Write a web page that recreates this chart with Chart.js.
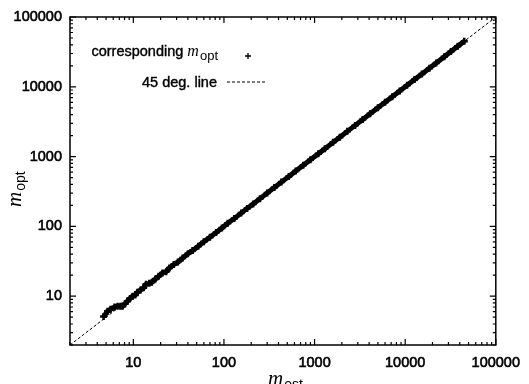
<!DOCTYPE html>
<html>
<head>
<meta charset="utf-8">
<script src="https://cdn.jsdelivr.net/npm/chart.js@4/dist/chart.umd.min.js"></script>
<style>
  html, body { margin: 0; padding: 0; background: #fff; }
  #wrap { width: 529px; height: 384px; }
</style>
</head>
<body>
<div id="wrap"><canvas id="chart"></canvas></div>
<script>
// m_est values (x) and the corresponding m_opt (y)
const mEst = [4.7, 5.2, 5.6, 6.2, 6.7, 7.2, 7.6, 8.1, 8.6, 9.2, 9.8, 10.5, 11.1, 12, 13, 13.8, 15, 16, 17.5, 19,
  21, 23, 25, 28, 31, 35, 40, 45, 52, 60, 70, 82, 95, 110, 130, 155, 180, 210, 250, 300,
  360, 430, 520, 620, 750, 900, 1100, 1300, 1600, 1900, 2300, 2800, 3400, 4100, 5000, 6000,
  7200, 8700, 10500, 12700, 15300, 18500, 22000, 27000, 32000, 38000, 44900];
const mOpt = [5.1, 6.1, 6.5, 7.0, 7.2, 7.2, 7.2, 7.8, 8.5, 9.3, 10, 10.4, 11.4, 12.3, 13.2, 14.8, 15.3, 15.8, 17.6, 19.3,
  21.5, 22.5, 25.3, 28.5, 30.8, 35.2, 40.5, 45, 52, 60.5, 70, 82, 95, 111, 130, 155, 181, 210, 250, 300,
  360, 431, 520, 620, 750, 900, 1100, 1300, 1600, 1900, 2300, 2800, 3400, 4100, 5000, 6000,
  7200, 8700, 10500, 12700, 15300, 18500, 22000, 27000, 32000, 38000, 44900];

// 45 degree reference line, from corner to corner
const diagEnds = [2, 100000];
const axisTicks = [10, 100, 1000, 10000, 100000];

const LABEL_FONT = 'Liberation Sans';
const SERIF_FONT = 'Liberation Serif';

const optPoints = mEst.map((x, i) => ({ x: x, y: mOpt[i] }));
const diagPoints = diagEnds.map(v => ({ x: v, y: v }));

// draw "m" in italic with a subscript, left aligned on the baseline
function drawMSub(ctx, x, y, mSize, sub, subSize, subDrop) {
  ctx.font = 'italic ' + mSize + 'px ' + SERIF_FONT;
  ctx.fillText('m', x, y);
  const w = ctx.measureText('m').width;
  ctx.font = subSize + 'px ' + LABEL_FONT;
  ctx.fillText(sub, x + w + 1, y + subDrop);
  return w + 1 + ctx.measureText(sub).width;
}

function measureMSub(ctx, mSize, sub, subSize) {
  ctx.font = 'italic ' + mSize + 'px ' + SERIF_FONT;
  const w = ctx.measureText('m').width;
  ctx.font = subSize + 'px ' + LABEL_FONT;
  return w + 1 + ctx.measureText(sub).width;
}

const framePlugin = {
  id: 'frame',
  afterDatasetsDraw(chart) {
    const ctx = chart.ctx;
    const a = chart.chartArea;
    const xs = chart.scales.x, ys = chart.scales.y;
    ctx.save();
    ctx.strokeStyle = '#000';
    ctx.lineWidth = 1.5;
    ctx.strokeRect(a.left, a.top, a.right - a.left, a.bottom - a.top);

    // inward major and minor ticks on all four sides
    ctx.lineWidth = 1.2;
    ctx.beginPath();
    for (let k = 0; k <= 5; k++) {
      for (let m = 1; m <= 9; m++) {
        const v = m * Math.pow(10, k);
        if (v < 2 || v > 100000) continue;
        const len = m === 1 ? 6 : 3;
        const px = xs.getPixelForValue(v);
        ctx.moveTo(px, a.bottom); ctx.lineTo(px, a.bottom - len);
        ctx.moveTo(px, a.top); ctx.lineTo(px, a.top + len);
        const py = ys.getPixelForValue(v);
        ctx.moveTo(a.left, py); ctx.lineTo(a.left + len, py);
        ctx.moveTo(a.right, py); ctx.lineTo(a.right - len, py);
      }
    }
    ctx.stroke();

    // key
    ctx.fillStyle = '#000';
    ctx.textBaseline = 'alphabetic';
    ctx.textAlign = 'left';
    const keyRight = 218;
    const keyFont = '14.5px ' + LABEL_FONT;
    const line1 = 'corresponding ';
    ctx.font = keyFont;
    const w1 = ctx.measureText(line1).width + measureMSub(ctx, 16, 'opt', 13);
    const x0 = keyRight - w1;
    ctx.font = keyFont;
    ctx.fillText(line1, x0, 56);
    ctx.lineWidth = 0.4;
    ctx.strokeText(line1, x0, 56);
    drawMSub(ctx, x0 + ctx.measureText(line1).width, 56, 16, 'opt', 13, 4);

    ctx.font = keyFont;
    ctx.textAlign = 'right';
    ctx.fillText('45 deg. line', keyRight - 1, 87);
    ctx.strokeText('45 deg. line', keyRight - 1, 87);

    ctx.lineWidth = 1.3;
    ctx.beginPath();
    ctx.moveTo(245, 56); ctx.lineTo(251, 56);
    ctx.moveTo(248, 53); ctx.lineTo(248, 59);
    ctx.stroke();

    ctx.lineWidth = 1;
    ctx.setLineDash([3, 2]);
    ctx.beginPath();
    ctx.moveTo(227, 82); ctx.lineTo(266, 82);
    ctx.stroke();
    ctx.setLineDash([]);

    // axis titles
    ctx.textAlign = 'left';
    drawMSub(ctx, 268, 385, 21, 'est', 14, 4);

    ctx.translate(21, 207);
    ctx.rotate(-Math.PI / 2);
    drawMSub(ctx, 0, 0, 21, 'opt', 14, 4);
    ctx.restore();
  }
};

const tickFont = { family: LABEL_FONT, size: 14.5 };

function logAxis(isX) {
  return {
    type: 'logarithmic',
    min: diagEnds[0],
    max: diagEnds[1],
    grid: { display: false, drawTicks: false },
    border: { display: false },
    afterBuildTicks: scale => { scale.ticks = axisTicks.map(v => ({ value: v })); },
    afterFit: scale => {
      if (isX) scale.height = 39; else scale.width = 70;
    },
    ticks: {
      color: '#000',
      font: tickFont,
      textStrokeColor: '#000',
      textStrokeWidth: 0.6,
      padding: isX ? 9 : 8,
      maxRotation: 0,
      autoSkip: false,
      callback: v => String(v)
    }
  };
}

new Chart(document.getElementById('chart').getContext('2d'), {
  type: 'scatter',
  data: {
    datasets: [
      {
        label: 'corresponding m_opt',
        data: optPoints,
        showLine: true,
        borderColor: '#000',
        borderWidth: 5,
        pointStyle: 'cross',
        pointRadius: 3.5,
        pointBorderWidth: 2.5,
        pointBorderColor: '#000',
        pointBackgroundColor: '#000'
      },
      {
        label: '45 deg. line',
        data: diagPoints,
        showLine: true,
        borderColor: '#000',
        borderWidth: 1,
        borderDash: [3, 2],
        pointRadius: 0
      }
    ]
  },
  options: {
    responsive: true,
    maintainAspectRatio: false,
    animation: false,
    layout: { padding: { top: 17, right: 26, left: 0, bottom: 0 } },
    plugins: {
      legend: { display: false },
      tooltip: { enabled: false }
    },
    scales: {
      x: logAxis(true),
      y: logAxis(false)
    }
  },
  plugins: [framePlugin]
});
</script>
</body>
</html>
